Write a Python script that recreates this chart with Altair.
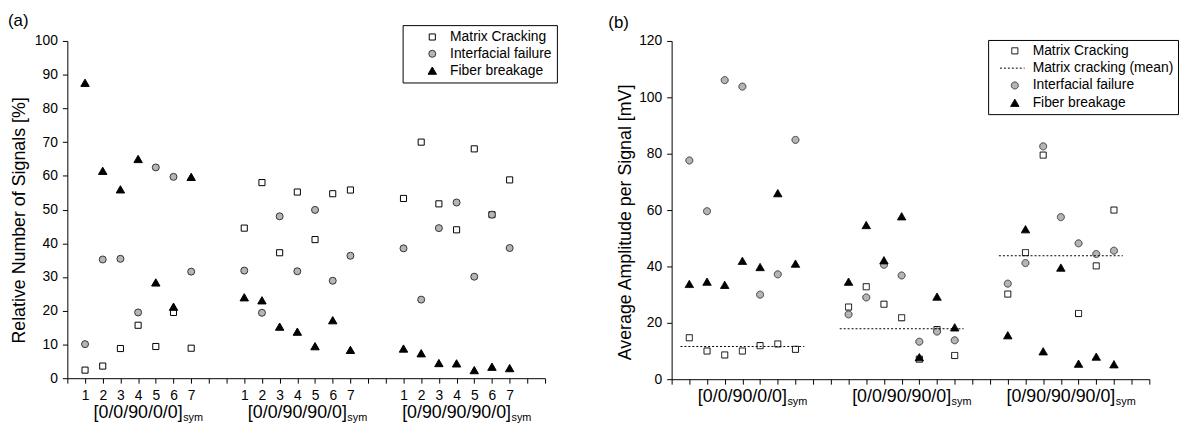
import altair as alt
import pandas as pd

FONT = "Liberation Sans"

# ---------------- data ----------------
group_labels = ["[0/0/90/0/0]", "[0/0/90/90/0]", "[0/90/90/90/0]"]
group_centers = [4, 13, 22]
sub_label = "sym"
positions = [1, 2, 3, 4, 5, 6, 7]

types_a = ["Matrix Cracking", "Interfacial failure", "Fiber breakage"]
types_b = ["Matrix Cracking", "Matrix cracking (mean)", "Interfacial failure", "Fiber breakage"]

# panel (a): relative number of signals [%]
a_matrix = [2.4, 3.6, 8.8, 15.7, 9.4, 19.5, 8.9,
            44.5, 58.0, 37.2, 55.2, 41.1, 54.7, 55.8,
            53.3, 70.0, 51.7, 44.0, 68.0, 48.5, 58.8]
a_interface = [10.1, 35.2, 35.4, 19.5, 62.5, 59.7, 31.6,
               31.9, 19.4, 48.0, 31.7, 49.9, 28.9, 36.3,
               38.5, 23.3, 44.5, 52.1, 30.1, 48.5, 38.6]
a_fiber = [87.6, 61.5, 56.0, 65.0, 28.4, 21.2, 59.7,
           24.0, 23.1, 15.3, 13.8, 9.5, 17.2, 8.4,
           8.8, 7.4, 4.5, 4.4, 2.4, 3.4, 3.0]

# panel (b): average amplitude per signal [mV]
b_matrix = [14.7, 10.0, 8.6, 10.0, 11.9, 12.5, 10.6,
            25.6, 32.8, 26.6, 21.8, 7.1, 17.6, 8.4,
            30.2, 44.9, 79.5, None, 23.3, 40.2, 60.0]
b_interface = [77.6, 59.6, 106.1, 103.8, 30.0, 37.2, 84.9,
               23.0, 29.0, 40.6, 36.8, 13.3, 16.9, 13.8,
               33.9, 41.2, 82.6, 57.5, 48.2, 44.4, 45.6]
b_fiber = [33.8, 34.6, 33.5, 42.0, 39.8, 66.0, 41.0,
           34.6, 54.7, 42.2, 57.8, 7.8, 29.3, 18.4,
           15.6, 53.2, 9.9, 39.6, 5.5, 8.0, 5.3]
b_mean = [11.6, 17.9, 43.8]
mean_start = [0.5, 9.5, 18.5]
mean_end = [7.5, 16.5, 25.5]


def to_long(series, names):
    rows = []
    for name, vals in zip(names, series):
        for i, v in enumerate(vals):
            if v is None:
                continue
            g, p = divmod(i, 7)
            rows.append({"idx": g * 9 + positions[p], "value": v, "type": name})
    return pd.DataFrame(rows)


df_a = to_long([a_matrix, a_interface, a_fiber], types_a)
df_b = to_long([b_matrix, b_interface, b_fiber],
               ["Matrix Cracking", "Interfacial failure", "Fiber breakage"])
df_mean = pd.DataFrame({"start": mean_start, "end": mean_end, "value": b_mean,
                        "type": ["Matrix cracking (mean)"] * 3})
df_groups = pd.DataFrame({"center": group_centers, "label": group_labels})

# text width helper (Arial metrics) used only to attach the subscript
CW = {"[": 0.278, "]": 0.278, "/": 0.278, "0": 0.556, "9": 0.556}


def text_width(s, size):
    return sum(CW.get(c, 0.556) for c in s) * size


GRAY = "#b5b5b5"
W = 483
H_A = 341
H_B = 342
XSCALE = alt.Scale(domain=[0, 27], nice=False, zero=False)
XVALS = list(range(28))

AX_A = alt.Axis(values=XVALS, title=None, grid=False, tickSize=5,
                labelExpr="(datum.value % 9 >= 1 && datum.value % 9 <= 7) ? '' + (datum.value % 9) : ''",
                labelPadding=17, labelBaseline="alphabetic", labelFontSize=14,
                labelOverlap=False, labelFlush=False, labelBound=False)
AX_B = alt.Axis(values=XVALS, title=None, grid=False, tickSize=5, labels=False)


def group_layers(height, main_off, sub_off, ax):
    layers = [
        alt.Chart(df_groups).mark_text(fontSize=18, font=FONT, baseline="alphabetic",
                                       align="center", color="black")
        .encode(x=alt.X("center:Q", scale=XSCALE, axis=ax),
                y=alt.value(height + main_off), text="label:N")
    ]
    for c, lab in zip(group_centers, group_labels):
        d = pd.DataFrame({"center": [c], "sub": [sub_label]})
        layers.append(
            alt.Chart(d).mark_text(fontSize=11, font=FONT, baseline="alphabetic", align="left",
                                   color="black", dx=text_width(lab, 18) / 2 + 0.5)
            .encode(x=alt.X("center:Q", scale=XSCALE, axis=ax),
                    y=alt.value(height + sub_off), text="sub:N")
        )
    return layers


def tag_layer(txt, xpos, ypos):
    d = pd.DataFrame({"t": [txt]})
    return alt.Chart(d).mark_text(fontSize=17, font=FONT, align="left", baseline="middle",
                                  color="black").encode(
        x=alt.value(xpos), y=alt.value(ypos), text="t:N")


# ---------------- panel (a) ----------------
leg_a = alt.Legend(title=None, orient="none", legendX=339, legendY=-16,
                   strokeColor="black", fillColor="white", padding=5,
                   labelFontSize=14, labelFont=FONT, labelColor="black",
                   symbolStrokeWidth=1, rowPadding=3, labelOffset=11, symbolOffset=18)

shape_a = alt.Scale(domain=types_a, range=["square", "circle", "triangle-up"])
fill_a = alt.Scale(domain=types_a, range=["white", GRAY, "black"])
stroke_a = alt.Scale(domain=types_a, range=["black", "#333333", "black"])
size_a = alt.Scale(type="ordinal", domain=types_a, range=[38, 50, 72])

pts_a = alt.Chart(df_a).mark_point(filled=True, strokeWidth=1, opacity=1).encode(
    x=alt.X("idx:Q", scale=XSCALE, axis=AX_A),
    y=alt.Y("value:Q", scale=alt.Scale(domain=[0, 100], nice=False),
            axis=alt.Axis(values=list(range(0, 101, 10)), title="Relative Number of Signals [%]",
                          tickSize=5, labelPadding=5, titlePadding=6, titleY=181, grid=False)),
    shape=alt.Shape("type:N", scale=shape_a, legend=leg_a),
    fill=alt.Fill("type:N", scale=fill_a, legend=leg_a),
    stroke=alt.Stroke("type:N", scale=stroke_a, legend=leg_a),
    size=alt.Size("type:N", scale=size_a, legend=leg_a),
)

panel_a = alt.layer(pts_a, *group_layers(H_A, 40, 43, AX_A), tag_layer("(a)", -60, -20)).properties(width=W, height=H_A)

# ---------------- panel (b) ----------------
leg_b = alt.Legend(title=None, orient="none", legendX=320, legendY=-1,
                   strokeColor="black", fillColor="white", padding=4,
                   labelFontSize=14, labelFont=FONT, labelColor="black",
                   symbolStrokeWidth=1, rowPadding=3.5, labelOffset=11, symbolOffset=16)

shape_b = alt.Scale(domain=types_b, range=["square", "M-5,0H3.3", "circle", "triangle-up"])
fill_b = alt.Scale(domain=types_b, range=["white", "transparent", GRAY, "black"])
stroke_b = alt.Scale(domain=types_b, range=["black", "black", "#333333", "black"])
size_b = alt.Scale(type="ordinal", domain=types_b, range=[38, 36, 50, 72])
dash_b = alt.Scale(domain=types_b, range=[[1, 0], [2, 2], [1, 0], [1, 0]])

YB = alt.Y("value:Q", scale=alt.Scale(domain=[0, 120], nice=False),
           axis=alt.Axis(values=list(range(0, 121, 20)), title="Average Amplitude per Signal [mV]",
                         tickSize=5, labelPadding=5, titlePadding=4, titleY=183, grid=False))

pts_b = alt.Chart(df_b).mark_point(filled=True, strokeWidth=1, opacity=1).encode(
    x=alt.X("idx:Q", scale=XSCALE, axis=AX_B),
    y=YB,
    shape=alt.Shape("type:N", scale=shape_b, legend=leg_b),
    fill=alt.Fill("type:N", scale=fill_b, legend=leg_b),
    stroke=alt.Stroke("type:N", scale=stroke_b, legend=leg_b),
    size=alt.Size("type:N", scale=size_b, legend=leg_b),
    strokeDash=alt.StrokeDash("type:N", scale=dash_b, legend=leg_b),
)

rule_b = alt.Chart(df_mean).mark_rule(strokeWidth=1).encode(
    x=alt.X("start:Q", scale=XSCALE, axis=AX_B),
    x2="end:Q",
    y=YB,
    stroke=alt.Stroke("type:N", scale=stroke_b, legend=leg_b),
    strokeDash=alt.StrokeDash("type:N", scale=dash_b, legend=leg_b),
)

panel_b = alt.layer(pts_b, rule_b, *group_layers(H_B, 23, 26, AX_B), tag_layer("(b)", -64, -18)).properties(width=W, height=H_B)

chart = alt.hconcat(panel_a, panel_b, spacing=51).resolve_scale(
    shape="independent", fill="independent", stroke="independent",
    size="independent", strokeDash="independent"
).resolve_legend(
    shape="independent", fill="independent", stroke="independent",
    size="independent", strokeDash="independent"
).properties(
    padding={"left": 0, "top": 2, "right": 0, "bottom": 0}
).configure_view(stroke=None).configure_axis(
    domainColor="black", tickColor="black", labelColor="black", titleColor="black",
    labelFont=FONT, titleFont=FONT, labelFontSize=14, titleFontSize=18,
    titleFontWeight="normal", domainWidth=1, tickWidth=1, grid=False
)

chart.save("out.html", embed_options={"renderer": "svg", "actions": False})
